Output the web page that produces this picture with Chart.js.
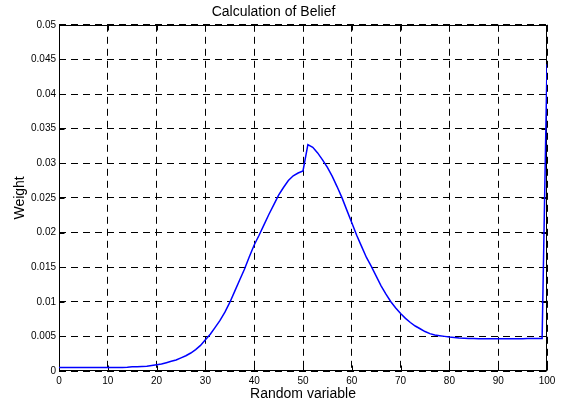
<!DOCTYPE html>
<html>
<head>
<meta charset="utf-8">
<script src="https://cdn.jsdelivr.net/npm/chart.js@4.4.0/dist/chart.umd.min.js"></script>
<style>
  html, body { margin: 0; padding: 0; background: #fff; }
</style>
</head>
<body>
<canvas id="myChart" width="563" height="405"></canvas>
<script>
// random variable (x) and its weight
const randomVar = [
  0, 1, 2, 3, 4, 5, 6, 7, 8, 9,
  10, 11, 12, 13, 14, 15, 16, 17, 18, 19,
  20, 21, 22, 23, 24, 25, 26, 27, 28, 29,
  30, 31, 32, 33, 34, 35, 36, 37, 38, 39,
  40, 41, 42, 43, 44, 45, 46, 47, 48, 49,
  50, 51, 52, 53, 54, 55, 56, 57, 58, 59,
  60, 61, 62, 63, 64, 65, 66, 67, 68, 69,
  70, 71, 72, 73, 74, 75, 76, 77, 78, 79,
  80, 81, 82, 83, 84, 85, 86, 87, 88, 89,
  90, 91, 92, 93, 94, 95, 96, 97, 98, 99,
  100
];
const weight = [
  0.0005, 0.0005, 0.0005, 0.0005, 0.0005, 0.0005, 0.0005, 0.0005, 0.0005, 0.0005,
  0.0005, 0.0005, 0.0005, 0.00052, 0.00055, 0.0006, 0.00062, 0.00066, 0.0007, 0.0008,
  0.0009, 0.001, 0.0012, 0.0014, 0.0016, 0.0019, 0.0022, 0.0026, 0.0031, 0.0037,
  0.0045, 0.0053, 0.0063, 0.0073, 0.0085, 0.0099, 0.0115, 0.0131, 0.0147, 0.0165,
  0.0182, 0.0196, 0.0211, 0.0226, 0.0240, 0.0254, 0.0265, 0.0275, 0.0282, 0.0286,
  0.0289, 0.0327, 0.0323, 0.0315, 0.0305, 0.0294, 0.0281, 0.0266, 0.0250, 0.0232,
  0.0214, 0.0196, 0.0180, 0.0164, 0.0151, 0.0137, 0.0123, 0.0111, 0.0100, 0.0091,
  0.0083, 0.0076, 0.0070, 0.0065, 0.0061, 0.0057, 0.0054, 0.0052, 0.0051, 0.0050,
  0.0049, 0.00484, 0.00478, 0.00474, 0.0047, 0.00468, 0.00466, 0.00465, 0.00464, 0.00464,
  0.00464, 0.00464, 0.00465, 0.00465, 0.00466, 0.00467, 0.00468, 0.00469, 0.0047, 0.0047,
  0.0443
];

const font = 'Liberation Sans, Arial, Helvetica, sans-serif';

// box around the axes with small inward ticks on every side
const frame = {
  id: 'frame',
  beforeDatasetsDraw(chart) {
    const {ctx, chartArea: a, scales: {x, y}} = chart;
    const L = Math.round(a.left) + 0.5, R = Math.round(a.right) - 0.5;
    const T = Math.round(a.top) + 0.5, B = Math.round(a.bottom) - 0.5;
    const len = 5;
    ctx.save();
    ctx.setLineDash([]);
    ctx.strokeStyle = '#000';
    ctx.lineWidth = 1;
    ctx.beginPath();
    x.ticks.forEach(t => {
      const px = Math.round(x.getPixelForValue(t.value)) + 0.5;
      ctx.moveTo(px, B); ctx.lineTo(px, B - len);
      ctx.moveTo(px, T); ctx.lineTo(px, T + len);
    });
    y.ticks.forEach(t => {
      const py = Math.round(y.getPixelForValue(t.value)) + 0.5;
      ctx.moveTo(L, py); ctx.lineTo(L + len, py);
      ctx.moveTo(R, py); ctx.lineTo(R - len, py);
    });
    ctx.stroke();
    ctx.strokeRect(L, T, R - L, B - T);
    ctx.restore();
  }
};

const ctx = document.getElementById('myChart').getContext('2d');
new Chart(ctx, {
  type: 'line',
  data: {
    datasets: [{
      data: randomVar.map((v, i) => ({x: v, y: weight[i]})),
      borderColor: '#0000ff',
      borderWidth: 1.5,
      pointRadius: 0,
      tension: 0,
      fill: false
    }]
  },
  plugins: [frame],
  options: {
    responsive: false,
    animation: false,
    devicePixelRatio: 1,
    layout: { padding: { left: 0, right: 16, top: 0, bottom: 0 } },
    plugins: {
      legend: { display: false },
      tooltip: { enabled: false },
      title: {
        display: true,
        text: 'Calculation of Belief',
        color: '#000',
        font: { family: font, size: 14, weight: 'normal' },
        padding: { top: 4, bottom: 4 }
      }
    },
    scales: {
      x: {
        type: 'linear',
        min: 0,
        max: 100,
        ticks: { stepSize: 10, color: '#000', padding: 4, font: { family: font, size: 10 }, maxRotation: 0 },
        grid: { color: '#000', lineWidth: 1, drawTicks: false },
        border: { display: false, dash: [7, 5] },
        title: {
          display: true,
          text: 'Random variable',
          color: '#000',
          font: { family: font, size: 14 },
          padding: { top: 0, bottom: 2 }
        },
        afterFit(s) { s.height = 405 - 371; }
      },
      y: {
        min: 0,
        max: 0.05,
        ticks: {
          stepSize: 0.005,
          color: '#000',
          padding: 3,
          font: { family: font, size: 10 },
          callback: v => String(+v.toFixed(3))
        },
        grid: { color: '#000', lineWidth: 1, drawTicks: false },
        border: { display: false, dash: [7, 5] },
        title: {
          display: true,
          text: 'Weight',
          color: '#000',
          font: { family: font, size: 14 },
          padding: { top: 12, bottom: 0 }
        },
        afterFit(s) { s.width = 59; }
      }
    }
  }
});
</script>
</body>
</html>
